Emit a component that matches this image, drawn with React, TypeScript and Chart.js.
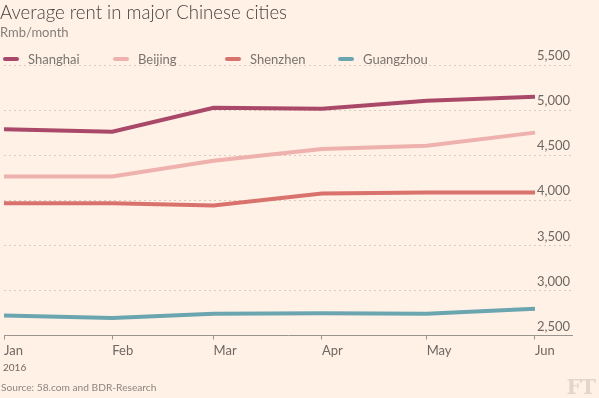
import React, { useEffect, useRef } from "react";
import { Chart, registerables } from "chart.js";

Chart.register(...registerables);

const months = ["Jan", "Feb", "Mar", "Apr", "May", "Jun"];
const yearLabel = "2016";
const shanghai = [4788, 4761, 5026, 5015, 5104, 5148];
const beijing = [4263, 4263, 4438, 4568, 4605, 4750];
const shenzhen = [3967, 3967, 3941, 4075, 4086, 4086];
const guangzhou = [2721, 2695, 2740, 2748, 2740, 2796];
const yTicks = [2500, 3000, 3500, 4000, 4500, 5000, 5500];

const seriesNames = ["Shanghai", "Beijing", "Shenzhen", "Guangzhou"];
const seriesColors = ["#aa4869", "#eeb1ad", "#d9716c", "#6ba5af"];
const seriesData = [shanghai, beijing, shenzhen, guangzhou];

const DAY = 86400000;
const monthDays = months.map((_, i) => Math.round((Date.UTC(2016, i, 1) - Date.UTC(2016, 0, 1)) / DAY));

const FONT = "Lato, 'Open Sans', sans-serif";

export default function App() {
  const ref = useRef<HTMLCanvasElement>(null);
  useEffect(() => {
    document.body.style.margin = "0";
    const ctx = ref.current!;
    const chart = new Chart(ctx, {
      type: "line",
      data: {
        datasets: seriesNames.map((name, k) => ({
          label: name,
          data: seriesData[k].map((v, i) => ({ x: monthDays[i], y: v })),
          borderColor: seriesColors[k],
          backgroundColor: seriesColors[k],
          borderWidth: 4,
          pointRadius: 0,
          tension: 0,
          fill: false,
        })),
      },
      options: {
        animation: false,
        responsive: false,
        devicePixelRatio: 1,
        layout: { padding: { top: 65, left: 3, right: 27, bottom: 0 } },
        plugins: { legend: { display: false }, tooltip: { enabled: false }, title: { display: false } },
        scales: {
          x: {
            type: "linear",
            min: 0,
            max: 162.6,
            afterBuildTicks: (s: any) => {
              s.ticks = monthDays.map((d) => ({ value: d }));
            },
            afterFit: (s: any) => {
              s.height = 62.5;
            },
            grid: { display: true, drawOnChartArea: false, drawTicks: true, tickLength: 4, color: "#9a948e" },
            border: { display: true, color: "#9a948e", width: 1 },
            ticks: {
              autoSkip: false,
              maxRotation: 0,
              align: "start",
              padding: 4,
              color: "#6e6862",
              font: { family: FONT, size: 13 },
              callback: (v: any) => {
                const i = monthDays.indexOf(Number(v));
                return i >= 0 ? months[i] : "";
              },
            },
          },
          y: {
            position: "right",
            min: 2500,
            max: 5500,
            afterBuildTicks: (s: any) => {
              s.ticks = yTicks.map((v) => ({ value: v }));
            },
            afterFit: (s: any) => {
              s.width = 0;
            },
            grid: { display: true, drawTicks: false, color: "#d6ccc2", lineWidth: 1 },
            border: { display: false, dash: [2, 3] },
            ticks: {
              mirror: true,
              padding: -2,
              labelOffset: -9,
              color: "#6e6862",
              font: { family: FONT, size: 13 },
              callback: (v: any) => Number(v).toLocaleString("en-US"),
            },
          },
        },
      },
    } as any);
    return () => chart.destroy();
  }, []);

  return (
    <div style={{ position: "fixed", left: 0, top: 0, width: 599, height: 398, background: "#fff1e5", overflow: "hidden", fontFamily: FONT }}>
      <canvas ref={ref} width={599} height={398} style={{ position: "absolute", left: 0, top: 0, width: 599, height: 398 }} />
      <div style={{ position: "absolute", left: 0, top: 0, fontSize: 18.6, color: "#46423f", fontWeight: 300, whiteSpace: "nowrap", lineHeight: "24px" }}>
        Average rent in major Chinese cities
      </div>
      <div style={{ position: "absolute", left: 0, top: 24, fontSize: 13, color: "#857f79", lineHeight: "16px" }}>Rmb/month</div>
      <div style={{ position: "absolute", left: 0, top: 51, height: 16 }}>
        {seriesNames.map((n, k) => (
          <div key={n} style={{ position: "absolute", left: [3, 113, 225, 338][k], top: 0, display: "flex", alignItems: "center", whiteSpace: "nowrap" }}>
            <span style={{ display: "inline-block", width: 16, height: 4, borderRadius: 2, background: seriesColors[k], marginRight: 9 }} />
            <span style={{ fontSize: 13, color: "#7a746e", lineHeight: "16px" }}>{n}</span>
          </div>
        ))}
      </div>
      <div style={{ position: "absolute", left: 3, top: 361, fontSize: 10, color: "#6e6862", lineHeight: "12px" }}>{yearLabel}</div>
      <div style={{ position: "absolute", left: 1, top: 380, fontSize: 10.2, color: "#8c867f", lineHeight: "14px" }}>Source: 58.com and BDR-Research</div>
      <div style={{ position: "absolute", right: 4, top: 376, fontSize: 21, color: "#e2d6ca", fontFamily: "'DejaVu Serif', serif", fontWeight: 700, letterSpacing: -1, lineHeight: "22px" }}>FT</div>
    </div>
  );
}
